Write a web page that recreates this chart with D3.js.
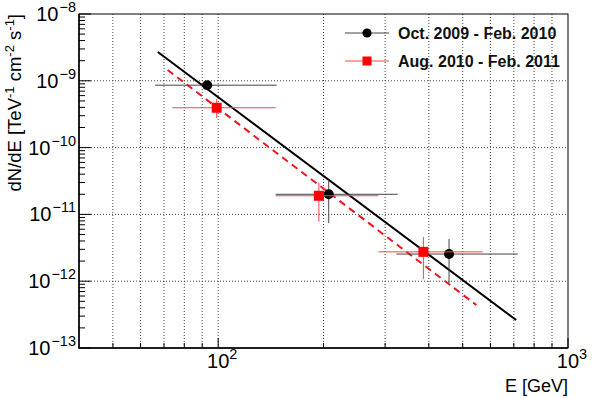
<!DOCTYPE html>
<html>
<head>
  <meta charset="utf-8">
  <script src="https://d3js.org/d3.v7.min.js"></script>
  <style type="text/css">
    body { margin: 0; background: #fff; }
    svg { font-family: "Liberation Sans", Arial, Helvetica, sans-serif; }
    .grid line { stroke: #444; stroke-width: 1; stroke-dasharray: 1,2; }
    .legend text { font-weight: bold; font-size: 16px; fill: #111; }
  </style>
</head>
<body>
  <script type="text/javascript">
    // Oct. 2009 - Feb. 2010 (black circles)
    var blackE     = [93, 207, 457],
        blackFlux  = [8.6e-10, 2.0e-11, 2.55e-12],
        blackElo   = [66, 146, 323],
        blackEhi   = [147, 326, 718],
        blackFlo   = [7.8e-10, 7.4e-12, 9.4e-13],
        blackFhi   = [9.5e-10, 3.3e-11, 4.3e-12];

    // Aug. 2010 - Feb. 2011 (red squares)
    var redE     = [99, 194, 386],
        redFlux  = [3.95e-10, 1.9e-11, 2.75e-12],
        redElo   = [74, 146, 287],
        redEhi   = [146, 287, 570],
        redFlo   = [2.77e-10, 7.8e-12, 1.08e-12],
        redFhi   = [5.3e-10, 3.0e-11, 4.6e-12];

    // power-law fits, end points
    var blackFitE = [67.2, 711], blackFitF = [2.7e-9, 2.62e-13];
    var redFitE   = [71.7, 547], redFitF   = [1.45e-9, 4.4e-13];

    var xMajor = [100, 1000],
        xMinor = [50, 60, 70, 80, 90, 200, 300, 400, 500, 600, 700, 800, 900],
        yMajorExp = [-13, -12, -11, -10, -9, -8];

    var legendLabels = ['Oct. 2009 - Feb. 2010', 'Aug. 2010 - Feb. 2011'];

    var W = 600, H = 398,
        pl = 79, pr = 568, pt = 14, pb = 348;

    var svg = d3.select('body').append('svg')
        .attr('width', W).attr('height', H);

    var x = d3.scaleLog().domain([40, 1000]).range([pl, pr]);
    var y = d3.scaleLog().domain([1e-13, 1e-8]).range([pb, pt]);

    var yMinor = [];
    yMajorExp.slice(0, -1).forEach(function(e) {
      for (var k = 2; k <= 9; k++) yMinor.push(k * Math.pow(10, e));
    });

    // grid
    var grid = svg.append('g').attr('class', 'grid');
    grid.selectAll('.vx').data(xMinor.concat([100]))
      .enter().append('line')
        .attr('x1', function(d) { return x(d); }).attr('x2', function(d) { return x(d); })
        .attr('y1', pt).attr('y2', pb);
    grid.selectAll('.hy').data(yMajorExp.slice(1, -1))
      .enter().append('line')
        .attr('y1', function(d) { return y(Math.pow(10, d)); })
        .attr('y2', function(d) { return y(Math.pow(10, d)); })
        .attr('x1', pl).attr('x2', pr);

    // frame
    svg.append('rect')
      .attr('x', pl).attr('y', pt)
      .attr('width', pr - pl).attr('height', pb - pt)
      .attr('fill', 'none').attr('stroke', '#000').attr('stroke-width', 1);
    svg.append('path')
      .attr('d', 'M' + pl + ',' + pt + 'V' + pb + 'H' + pr)
      .attr('fill', 'none').attr('stroke', '#000').attr('stroke-width', 1.5);

    // ticks
    var ticks = svg.append('g').attr('stroke', '#000').attr('stroke-width', 1);
    ticks.selectAll('.xt').data(xMinor).enter().append('line')
      .attr('x1', function(d) { return x(d); }).attr('x2', function(d) { return x(d); })
      .attr('y1', pb).attr('y2', pb - 5);
    ticks.selectAll('.xT').data(xMajor).enter().append('line')
      .attr('x1', function(d) { return x(d); }).attr('x2', function(d) { return x(d); })
      .attr('y1', pb).attr('y2', pb - 10);
    ticks.selectAll('.yt').data(yMinor).enter().append('line')
      .attr('y1', function(d) { return y(d); }).attr('y2', function(d) { return y(d); })
      .attr('x1', pl).attr('x2', pl + 6);
    ticks.selectAll('.yT').data(yMajorExp).enter().append('line')
      .attr('y1', function(d) { return y(Math.pow(10, d)); })
      .attr('y2', function(d) { return y(Math.pow(10, d)); })
      .attr('x1', pl).attr('x2', pl + 12);

    // tick labels
    var yl = svg.selectAll('.ylab').data(yMajorExp).enter().append('text')
      .attr('x', 76).attr('y', function(d) { return y(Math.pow(10, d)) + 7; })
      .attr('text-anchor', 'end').style('font-size', '20px');
    yl.append('tspan').text('10');
    yl.append('tspan').attr('dy', -9).attr('dx', 1).style('font-size', '14.5px')
      .text(function(d) { return '\u2212' + Math.abs(d); });

    var xl = svg.selectAll('.xlab').data(xMajor).enter().append('text')
      .attr('x', function(d) { return x(d) + 4; }).attr('y', 368)
      .attr('text-anchor', 'middle').style('font-size', '20px');
    xl.append('tspan').text('10');
    xl.append('tspan').attr('dy', -9).style('font-size', '14.5px')
      .text(function(d) { return Math.round(Math.log10(d)); });

    // axis titles
    svg.append('text').attr('x', pr).attr('y', 392)
      .attr('text-anchor', 'end').style('font-size', '18px').text('E [GeV]');

    var yt = svg.append('text')
      .attr('transform', 'translate(21,' + pt + ') rotate(-90)')
      .attr('text-anchor', 'end').style('font-size', '18.5px');
    yt.append('tspan').text('dN/dE [TeV');
    yt.append('tspan').attr('dy', -7).style('font-size', '13px').text('-1');
    yt.append('tspan').attr('dy', 7).text(' cm');
    yt.append('tspan').attr('dy', -7).style('font-size', '13px').text('-2');
    yt.append('tspan').attr('dy', 7).text(' s');
    yt.append('tspan').attr('dy', -7).style('font-size', '13px').text('-1');
    yt.append('tspan').attr('dy', 7).text(']');

    // fit lines
    var line = d3.line()
      .x(function(d) { return x(d[0]); })
      .y(function(d) { return y(d[1]); });
    svg.append('path').datum(d3.zip(blackFitE, blackFitF))
      .attr('d', line).attr('fill', 'none').attr('stroke', '#000').attr('stroke-width', 2);
    svg.append('path').datum(d3.zip(redFitE, redFitF))
      .attr('d', line).attr('fill', 'none').attr('stroke', '#f0141e')
      .attr('stroke-width', 2).attr('stroke-dasharray', '7,5');

    // error bars + markers
    function drawSeries(E, F, Elo, Ehi, Flo, Fhi, color, shape) {
      var g = svg.append('g');
      var pts = d3.range(E.length);
      g.selectAll('.h').data(pts).enter().append('line')
        .attr('x1', function(i) { return x(Elo[i]); }).attr('x2', function(i) { return x(Ehi[i]); })
        .attr('y1', function(i) { return y(F[i]); }).attr('y2', function(i) { return y(F[i]); })
        .attr('stroke', color).attr('stroke-width', 1);
      g.selectAll('.v').data(pts).enter().append('line')
        .attr('x1', function(i) { return x(E[i]); }).attr('x2', function(i) { return x(E[i]); })
        .attr('y1', function(i) { return y(Flo[i]); }).attr('y2', function(i) { return y(Fhi[i]); })
        .attr('stroke', color).attr('stroke-width', 1);
      if (shape === 'circle') {
        g.selectAll('.m').data(pts).enter().append('circle')
          .attr('cx', function(i) { return x(E[i]); }).attr('cy', function(i) { return y(F[i]); })
          .attr('r', 5).attr('fill', '#000');
      } else {
        g.selectAll('.m').data(pts).enter().append('rect')
          .attr('x', function(i) { return x(E[i]) - 5; }).attr('y', function(i) { return y(F[i]) - 5; })
          .attr('width', 10).attr('height', 10).attr('fill', '#f00');
      }
    }
    drawSeries(blackE, blackFlux, blackElo, blackEhi, blackFlo, blackFhi, '#444', 'circle');
    drawSeries(redE, redFlux, redElo, redEhi, redFlo, redFhi, '#f44', 'rect');

    // legend
    var lg = svg.append('g').attr('class', 'legend');
    var ly = [33, 61];
    lg.append('line').attr('x1', 345).attr('x2', 389).attr('y1', ly[0]).attr('y2', ly[0])
      .attr('stroke', '#444').attr('stroke-width', 1);
    lg.append('circle').attr('cx', 367).attr('cy', ly[0]).attr('r', 4.6).attr('fill', '#000');
    lg.append('line').attr('x1', 345).attr('x2', 389).attr('y1', ly[1]).attr('y2', ly[1])
      .attr('stroke', '#f44').attr('stroke-width', 1);
    lg.append('rect').attr('x', 362.5).attr('y', ly[1] - 4.5).attr('width', 9).attr('height', 9)
      .attr('fill', '#f00');
    lg.selectAll('.t').data(legendLabels).enter().append('text')
      .attr('x', 398).attr('y', function(d, i) { return ly[i] + 6; })
      .text(function(d) { return d; });
  </script>
</body>
</html>
